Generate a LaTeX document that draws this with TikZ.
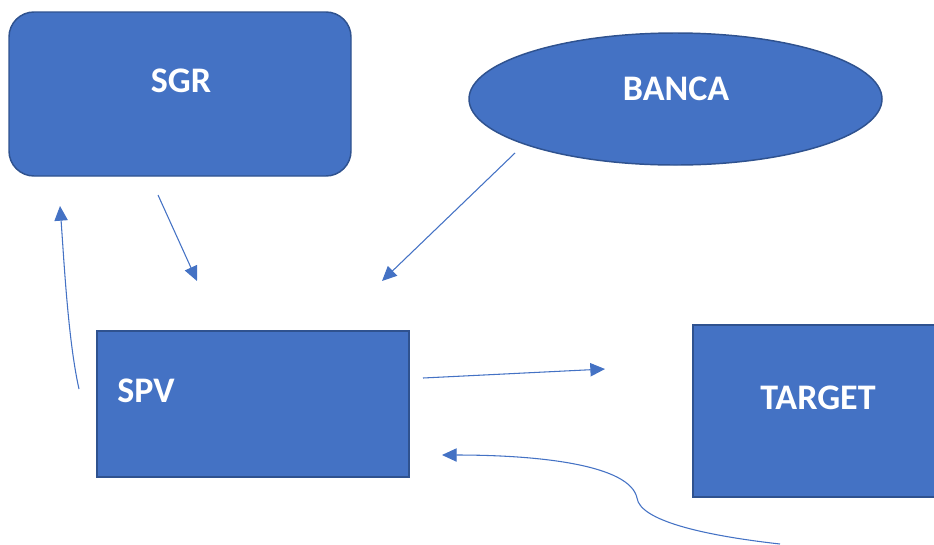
\documentclass[tikz,border=0pt]{standalone}
\usepackage{fontspec}
\setmainfont{Carlito}
\usetikzlibrary{shapes.geometric,arrows.meta}
\definecolor{boxfill}{HTML}{4472C4}
\definecolor{boxline}{HTML}{2F528F}
\tikzset{
  shapebox/.style={fill=boxfill, draw=boxline, line width=1.1pt, inner sep=0pt},
  lbl/.style={text=white, font=\fontsize{27}{32}\selectfont\bfseries, inner sep=0pt},
  conn/.style={draw=boxfill, line width=0.8pt, -{Triangle[length=11pt,width=10pt]}}
}
\begin{document}
\begin{tikzpicture}[x=0.75pt,y=-0.75pt]
\useasboundingbox (0,0) rectangle (934,544);
\begin{scope}
\clip (0,0) rectangle (934,544);
\node[shapebox, rounded corners=18.75pt, minimum width=256.5pt, minimum height=123pt] (sgr) at (180,94) {};
\node[shapebox, ellipse, minimum width=309.75pt, minimum height=99pt] (banca) at (675.5,99) {};
\node[shapebox, minimum width=234pt, minimum height=109.5pt] (spv) at (253,404) {};
\node[shapebox, minimum width=187.5pt, minimum height=129pt] (target) at (818,411) {};
\end{scope}
\node[lbl] (sgrt) at (181,81) {SGR};
\node[lbl] (bancat) at (676,89) {BANCA};
\node[lbl] (spvt) at (146,391) {SPV};
\node[lbl] (targett) at (818,398) {TARGET};
% connector end points
\coordinate (a1) at (158,195); \coordinate (a2) at (197,281);
\coordinate (b1) at (515,153); \coordinate (b2) at (382,281);
\coordinate (c1) at (79,389);  \coordinate (c2) at (60,206);
\coordinate (d1) at (423,378); \coordinate (d2) at (605,369);
\coordinate (e1) at (780,544); \coordinate (em) at (637,498); \coordinate (e2) at (442,455);
\draw[conn] (a1) -- (a2);
\draw[conn] (b1) -- (b2);
\draw[conn] (c1) .. controls (68,340) and (64,260) .. (c2);
\draw[conn] (d1) -- (d2);
\draw[conn] (e1) .. controls (700,535) and (640,520) .. (em) .. controls (630,465) and (540,455) .. (e2);
\end{tikzpicture}
\end{document}
